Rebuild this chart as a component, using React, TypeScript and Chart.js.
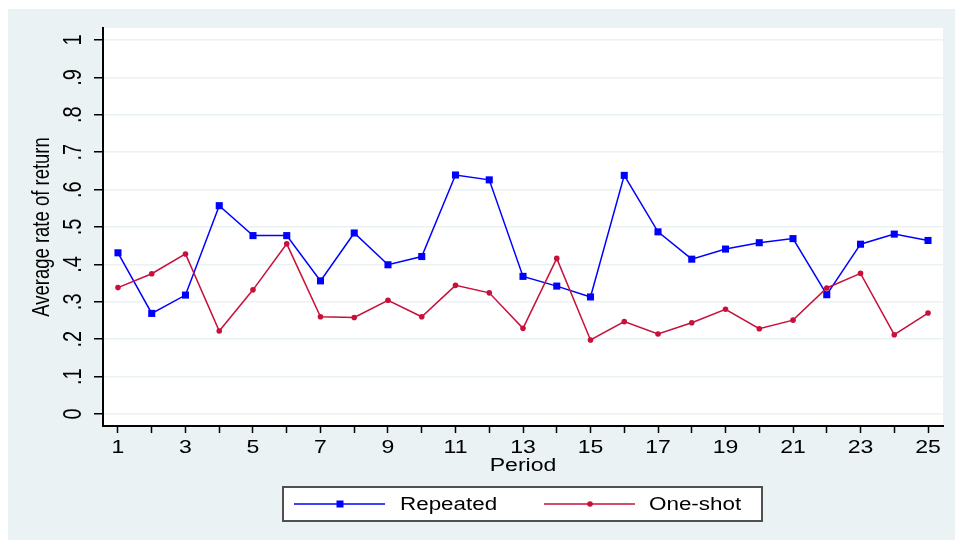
import React, { useEffect, useRef } from 'react';
import { Chart, registerables } from 'chart.js';

Chart.register(...registerables);

const periods = [1, 2, 3, 4, 5, 6, 7, 8, 9, 10, 11, 12, 13, 14, 15, 16, 17, 18, 19, 20, 21, 22, 23, 24, 25];
const repeated = [0.431, 0.269, 0.318, 0.557, 0.477, 0.477, 0.356, 0.484, 0.399, 0.421, 0.639, 0.626, 0.368, 0.342, 0.313, 0.638, 0.487, 0.414, 0.441, 0.458, 0.469, 0.319, 0.454, 0.481, 0.464];
const oneShot = [0.338, 0.375, 0.428, 0.222, 0.332, 0.455, 0.26, 0.258, 0.304, 0.26, 0.344, 0.324, 0.229, 0.416, 0.198, 0.247, 0.214, 0.244, 0.28, 0.228, 0.251, 0.337, 0.376, 0.212, 0.27];
const yTickValues = [0, 0.1, 0.2, 0.3, 0.4, 0.5, 0.6, 0.7, 0.8, 0.9, 1];
const yTickLabels = ['0', '.1', '.2', '.3', '.4', '.5', '.6', '.7', '.8', '.9', '1'];
const xTickLabels = ['1', '', '3', '', '5', '', '7', '', '9', '', '11', '', '13', '', '15', '', '17', '', '19', '', '21', '', '23', '', '25'];
const seriesNames = ['Repeated', 'One-shot'];

const BG = '#EAF2F3';
const BLUE = '#0000FF';
const RED = '#C8103A';
const FONT = "'Liberation Sans', Arial, sans-serif";
const SX = 1.28;

const bgPlugin = {
  id: 'stataBg',
  beforeDraw(chart: any) {
    const { ctx, chartArea, width, height } = chart;
    ctx.save();
    ctx.fillStyle = BG;
    ctx.fillRect(0, 0, width, height);
    ctx.fillStyle = '#FFFFFF';
    ctx.fillRect(chartArea.left, chartArea.top, chartArea.right - chartArea.left, chartArea.bottom - chartArea.top);
    ctx.restore();
  },
};

const legendPlugin = {
  id: 'stataLegend',
  afterDraw(chart: any) {
    const { ctx } = chart;
    const boxL = 275, boxT = 478, boxW = 479, boxH = 34;
    const midY = boxT + boxH / 2;
    ctx.save();
    ctx.fillStyle = '#FFFFFF';
    ctx.fillRect(boxL, boxT, boxW, boxH);
    ctx.strokeStyle = '#505050';
    ctx.lineWidth = 2;
    ctx.strokeRect(boxL, boxT, boxW, boxH);
    const items = [
      { lineStart: 286, textX: 392 },
      { lineStart: 536, textX: 641 },
    ];
    chart.data.datasets.forEach((ds: any, i: number) => {
      const it = items[i];
      if (!it) return;
      ctx.strokeStyle = ds.borderColor;
      ctx.lineWidth = 1.5;
      ctx.beginPath();
      ctx.moveTo(it.lineStart, midY);
      ctx.lineTo(it.lineStart + 91, midY);
      ctx.stroke();
      const cx = it.lineStart + 46;
      ctx.fillStyle = ds.pointBackgroundColor;
      if (ds.pointStyle === 'rect') {
        ctx.fillRect(cx - 3.5, midY - 3.5, 7, 7);
      } else {
        ctx.beginPath();
        ctx.arc(cx, midY, 2.8, 0, Math.PI * 2);
        ctx.fill();
      }
      ctx.fillStyle = '#000';
      ctx.font = `17.5px ${FONT}`;
      ctx.textAlign = 'left';
      ctx.textBaseline = 'middle';
      ctx.fillText(ds.label, it.textX, midY + 1);
    });
    ctx.restore();
  },
};

export default function App() {
  const ref = useRef<HTMLCanvasElement>(null);

  useEffect(() => {
    const canvas = ref.current as HTMLCanvasElement;
    const ctx = canvas.getContext('2d') as CanvasRenderingContext2D;
    const origFill = CanvasRenderingContext2D.prototype.fillText.bind(ctx);
    (ctx as any).fillText = (text: string, x: number, y: number, maxWidth?: number) => {
      const m = ctx.getTransform();
      ctx.save();
      ctx.translate(x, y);
      if (Math.abs(m.b) > 0.5) ctx.scale(1, SX);
      else ctx.scale(SX, 1);
      if (maxWidth === undefined) origFill(text, 0, 0);
      else origFill(text, 0, 0, maxWidth);
      ctx.restore();
    };

    Chart.defaults.font.family = FONT;
    Chart.defaults.color = '#000';

    const chart = new Chart(canvas, {
      type: 'line',
      data: {
        datasets: [
          {
            label: seriesNames[0],
            data: periods.map((p, i) => ({ x: p, y: repeated[i] })),
            borderColor: BLUE,
            backgroundColor: BLUE,
            borderWidth: 1.5,
            pointStyle: 'rect',
            pointRadius: 5,
            pointBackgroundColor: BLUE,
            pointBorderWidth: 0,
            tension: 0,
            order: 1,
          },
          {
            label: seriesNames[1],
            data: periods.map((p, i) => ({ x: p, y: oneShot[i] })),
            borderColor: RED,
            backgroundColor: RED,
            borderWidth: 1.5,
            pointStyle: 'circle',
            pointRadius: 2.8,
            pointBackgroundColor: RED,
            pointBorderWidth: 0,
            tension: 0,
            order: 0,
          },
        ],
      },
      options: {
        responsive: false,
        animation: false,
        devicePixelRatio: 1,
        layout: { padding: { top: 19, right: 12, left: 0, bottom: 0 } },
        plugins: { legend: { display: false }, tooltip: { enabled: false } },
        scales: {
          x: {
            type: 'linear',
            min: 0.556,
            max: 25.444,
            afterBuildTicks: (s: any) => {
              s.ticks = periods.map((v) => ({ value: v }));
            },
            afterFit: (s: any) => {
              s.height = 114;
              s.paddingLeft = 0;
              s.paddingRight = 0;
              s.paddingTop = 0;
              s.paddingBottom = 0;
            },
            grid: { drawOnChartArea: false, tickLength: 7, tickColor: '#000', tickWidth: 1.5 },
            border: { display: true, color: '#000', width: 2 },
            ticks: {
              autoSkip: false,
              maxRotation: 0,
              minRotation: 0,
              padding: 4,
              color: '#000',
              font: { size: 18 },
              callback: (_v: any, i: number) => xTickLabels[i],
            },
            title: { display: true, text: 'Period', color: '#000', font: { size: 18 }, padding: { top: 0, bottom: 63 } },
          },
          y: {
            type: 'linear',
            min: -0.032,
            max: 1.032,
            afterBuildTicks: (s: any) => {
              s.ticks = yTickValues.map((v) => ({ value: v }));
            },
            afterFit: (s: any) => {
              s.width = 95;
              s.paddingLeft = 0;
              s.paddingRight = 0;
              s.paddingTop = 0;
              s.paddingBottom = 0;
            },
            grid: { color: BG, lineWidth: 1.5, tickLength: 9, tickColor: '#000', tickWidth: 1.5 },
            border: { display: true, color: '#000', width: 2 },
            ticks: {
              minRotation: 90,
              maxRotation: 90,
              crossAlign: 'center',
              padding: 12,
              color: '#000',
              font: { size: 20 },
              callback: (_v: any, i: number) => yTickLabels[i],
            },
            title: {
              display: true,
              text: 'Average rate of return',
              color: '#000',
              font: { size: 18.5 },
              padding: { top: 23, bottom: 0 },
            },
          },
        },
      },
      plugins: [bgPlugin, legendPlugin],
    } as any);

    return () => {
      chart.destroy();
      delete (ctx as any).fillText;
    };
  }, []);

  return (
    <div style={{ position: 'fixed', left: 8, top: 9, width: 947, height: 531 }}>
      <canvas ref={ref} width={947} height={531} style={{ display: 'block', width: 947, height: 531 }} />
    </div>
  );
}
